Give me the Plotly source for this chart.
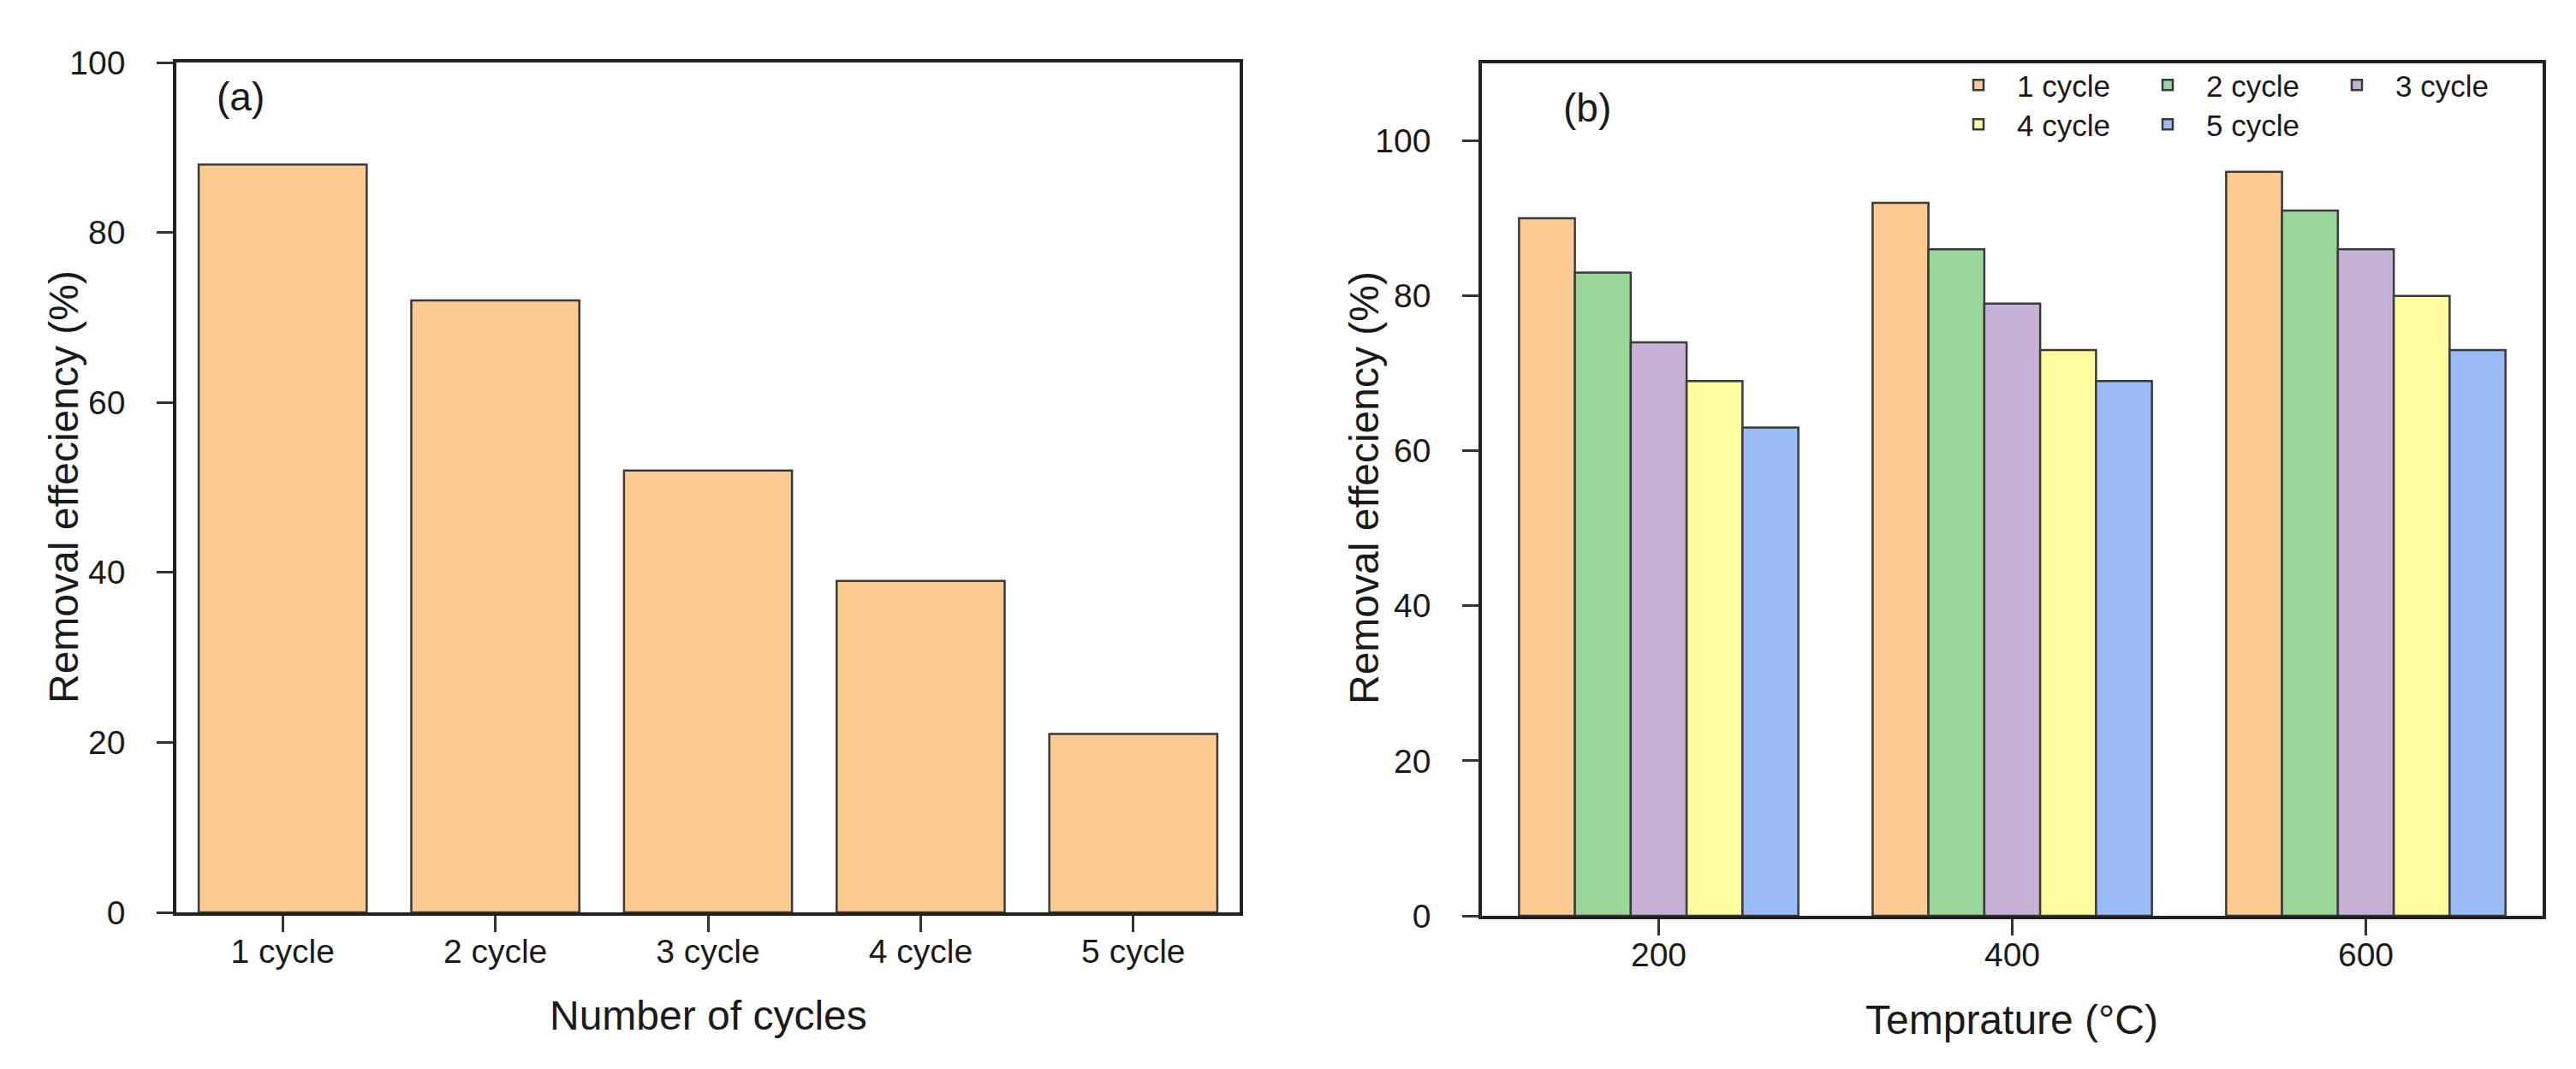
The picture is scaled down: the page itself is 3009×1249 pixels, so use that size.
import plotly.graph_objects as go

# ---- data ----
cycles = ["1 cycle", "2 cycle", "3 cycle", "4 cycle", "5 cycle"]
removal_a = [88, 72, 52, 39, 21]

temps = [200, 400, 600]
series_names = ["1 cycle", "2 cycle", "3 cycle", "4 cycle", "5 cycle"]
series_b = [
    [90, 92, 96],
    [83, 86, 91],
    [74, 79, 86],
    [69, 73, 80],
    [63, 69, 73],
]
colors = ["#FDCB92", "#9AD69A", "#C5B2D6", "#FFFD9D", "#9CBAF5"]

FONT = "Liberation Sans, Arial, sans-serif"
TXT = "#1a1a1a"
W, H = 3009, 1249

fig = go.Figure()

fig.add_trace(go.Bar(
    x=cycles, y=removal_a, xaxis="x", yaxis="y",
    marker=dict(color=colors[0], line=dict(color="#3a3a3a", width=2.5)),
    showlegend=False,
))

for i, (name, vals) in enumerate(zip(series_names, series_b)):
    fig.add_trace(go.Bar(
        x=temps, y=vals, name=name, xaxis="x2", yaxis="y2",
        marker=dict(color=colors[i], line=dict(color="#3a3a3a", width=2.5)),
        legend="legend" if i < 3 else "legend2",
    ))

axis_common = dict(
    showline=True, linecolor="#222", linewidth=3.5, mirror=True,
    ticks="outside", ticklen=19, tickwidth=3, tickcolor="#333",
    showgrid=False, zeroline=False,
    tickfont=dict(family=FONT, size=39, color=TXT),
    automargin=False,
)

legend_common = dict(
    orientation="h", xanchor="left", yanchor="top",
    font=dict(family=FONT, size=35, color=TXT), bgcolor="rgba(0,0,0,0)",
    entrywidth=126, itemwidth=80, tracegroupgap=0,
)

fig.update_layout(
    width=W, height=H,
    margin=dict(l=0, r=0, t=0, b=0),
    paper_bgcolor="white", plot_bgcolor="white",
    barmode="group", bargap=0.21, bargroupgap=0,
    font=dict(family=FONT, color=TXT),
    xaxis=dict(domain=[198 / W, 1440 / W], anchor="y", range=[-0.5, 4.5],
               ticklabelstandoff=-11, **axis_common),
    yaxis=dict(domain=[1 - 1058 / H, 1 - 65 / H], anchor="x", range=[0, 100],
               tickvals=[0, 20, 40, 60, 80, 100], ticklabelstandoff=29, **axis_common),
    xaxis2=dict(domain=[1723 / W, 2962 / W], anchor="y2", range=[100, 700],
                tickvals=temps, ticklabelstandoff=-11, **axis_common),
    yaxis2=dict(domain=[1 - 1062 / H, 1 - 66 / H], anchor="x2", range=[0, 110],
                tickvals=[0, 20, 40, 60, 80, 100], ticklabelstandoff=29, **axis_common),
    legend=dict(x=2258 / W, y=1 - 62 / H, **legend_common),
    legend2=dict(x=2258 / W, y=1 - 108 / H, **legend_common),
)

annots = [
    dict(text="(a)", x=273 / W, y=1 - 105 / H, size=46),
    dict(text="(b)", x=1846 / W, y=1 - 118 / H, size=46),
    dict(text="Number of cycles", x=819 / W, y=1 - 1178 / H, size=48),
    dict(text="Temprature (°C)", x=2342 / W, y=1 - 1183 / H, size=48),
]
for a in annots:
    fig.add_annotation(text=a["text"], x=a["x"], y=a["y"], xref="paper", yref="paper",
                       showarrow=False, xanchor="center", yanchor="middle",
                       font=dict(family=FONT, size=a["size"], color=TXT))
for txt, xc, yc in [("Removal effeciency (%)", 66, 561), ("Removal effeciency (%)", 1585, 562)]:
    fig.add_annotation(text=txt, x=xc / W, y=1 - yc / H, xref="paper", yref="paper",
                       showarrow=False, textangle=-90, xanchor="center", yanchor="middle",
                       font=dict(family=FONT, size=48, color=TXT))

fig.write_html("out.html")
